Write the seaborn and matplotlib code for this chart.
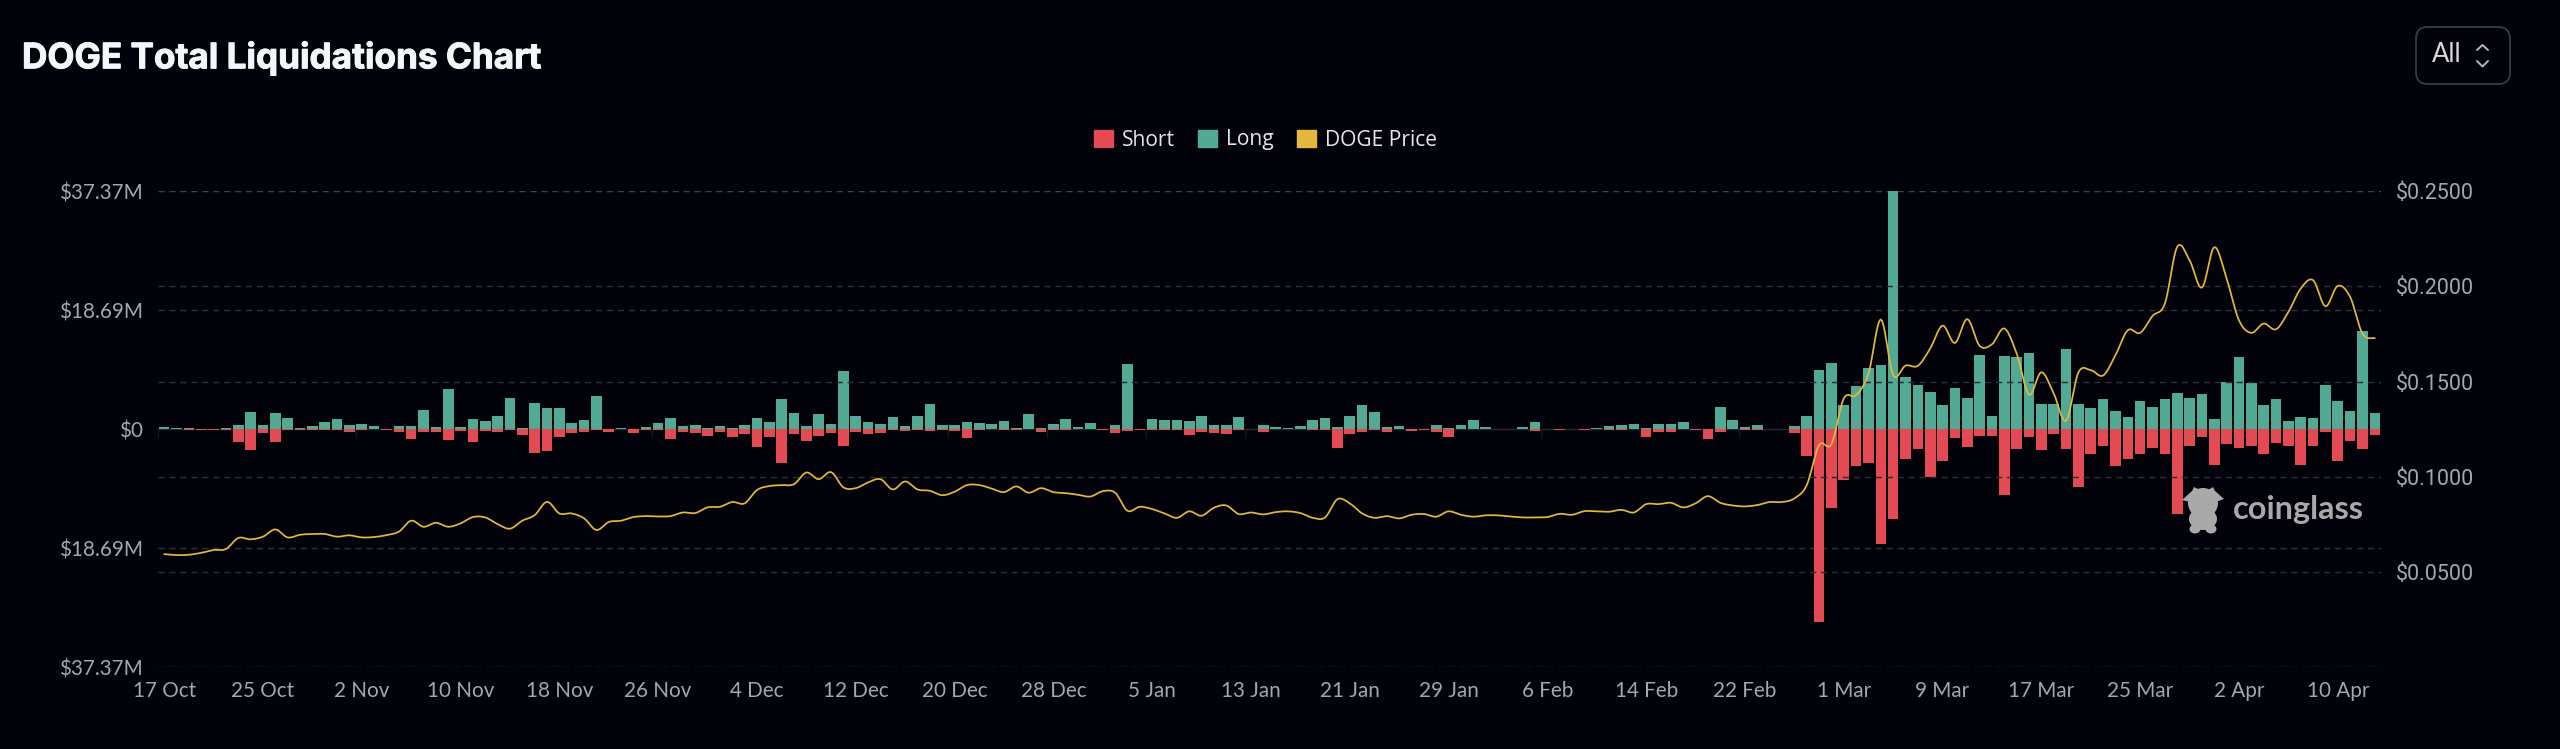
import numpy as np
import pandas as pd
import matplotlib
matplotlib.use("Agg")
import matplotlib.pyplot as plt
import matplotlib.patheffects as pe
import seaborn as sns
from matplotlib.patches import FancyBboxPatch, Patch, Polygon, Ellipse
from matplotlib.lines import Line2D

long_m = [
 .26,.21,.16,.05,.05,.21,.73,2.77,.68,2.57,
 1.78,.16,.47,1.05,1.52,.68,.84,.42,.05,.42,
 .52,2.98,.26,6.23,.26,1.57,1.26,2.04,4.97,.16,
 4.14,3.40,3.30,.99,1.47,5.13,.05,.16,.05,.37,
 .99,1.78,.47,.58,.16,.52,.16,.63,1.68,1.20,
 4.71,2.51,.47,2.36,.84,9.11,1.99,1.05,.84,1.94,
 .52,1.99,4.03,.68,.68,1.10,.99,.79,1.26,.21,
 2.36,.21,.79,1.52,.31,.94,.05,.63,10.16,.05,
 1.52,1.41,1.47,1.26,2.04,.63,.58,1.94,.03,.68,
 .26,.16,.42,1.41,1.83,.37,1.99,3.77,2.67,.31,
 .42,.03,.10,.58,.21,.68,1.36,.26,.10,.05,
 .26,1.10,.05,.03,.05,.05,.16,.47,.63,.79,
 .21,.79,.79,1.10,.10,.05,3.46,1.41,.31,.63,
 .05,.05,.52,1.99,9.32,10.37,3.82,6.75,9.58,10.05,
 37.37,8.17,6.86,5.81,3.72,6.44,4.87,11.68,1.99,11.47,
 11.26,11.94,3.93,3.98,12.67,3.93,3.25,4.66,2.83,1.88,
 4.35,3.51,4.66,5.65,4.97,5.45,1.62,7.33,11.26,7.23,
 3.72,4.66,1.26,1.88,1.78,6.91,4.35,2.93,15.45,2.57,
]
short_m = [
 .05,.05,.16,.21,.21,.10,1.99,3.30,.58,2.04,
 .16,.16,.10,.16,.21,.37,.10,.05,.10,.37,
 1.57,.42,.47,1.68,.31,1.99,.26,.42,.10,.89,
 3.72,3.46,1.31,.68,.47,.16,.47,.05,.58,.10,
 .16,1.47,.52,.68,1.05,.47,1.20,.79,2.88,1.26,
 5.34,.79,1.88,1.10,.68,2.57,.52,.84,.63,.10,
 .31,.16,.26,.10,.31,1.41,.16,.05,.16,.21,
 .05,.42,.10,.21,.05,.05,.16,.63,.31,.10,
 .16,.16,.10,.99,.42,.58,.84,.10,.03,.52,
 .05,.05,.05,.10,.16,3.04,.84,.37,.16,.42,
 .05,.31,.10,.42,1.26,.05,.05,.05,.05,.05,
 .05,.26,.05,.16,.05,.21,.05,.16,.16,.05,
 1.26,.52,.37,.05,.16,1.57,.37,.05,.10,.10,
 .05,.05,.58,4.24,30.37,12.46,8.06,5.76,5.34,18.01,
 14.08,4.71,3.14,7.59,5.03,1.41,2.88,1.05,1.15,10.42,
 3.14,1.26,3.25,.73,3.14,9.11,3.87,2.67,5.86,4.71,
 3.93,2.98,3.93,13.35,2.67,1.26,5.65,2.36,3.04,2.67,
 3.93,2.20,2.62,5.65,2.72,.52,4.97,1.83,3.09,.94,
]
price = [
 .0593,.0588,.0590,.0600,.0615,.0620,.0678,.0671,.0685,.0723,
 .0681,.0695,.0699,.0699,.0685,.0692,.0681,.0683,.0693,.0711,
 .0769,.0737,.0758,.0737,.0755,.0788,.0786,.0751,.0727,.0769,
 .0798,.0868,.0807,.0807,.0781,.0720,.0762,.0769,.0788,.0793,
 .0791,.0793,.0812,.0809,.0839,.0842,.0867,.0860,.0930,.0951,
 .0956,.0961,.1022,.0987,.1024,.0944,.0940,.0970,.0987,.0933,
 .0975,.0933,.0926,.0903,.0921,.0956,.0956,.0938,.0919,.0949,
 .0916,.0940,.0919,.0914,.0905,.0896,.0924,.0916,.0821,.0842,
 .0830,.0807,.0784,.0818,.0795,.0837,.0849,.0804,.0812,.0802,
 .0814,.0818,.0809,.0784,.0786,.0882,.0860,.0807,.0784,.0793,
 .0781,.0800,.0804,.0790,.0818,.0800,.0790,.0797,.0797,.0791,
 .0786,.0786,.0788,.0805,.0800,.0819,.0818,.0816,.0826,.0812,
 .0856,.0856,.0863,.0839,.0860,.0898,.0863,.0849,.0844,.0851,
 .0867,.0867,.0886,.0956,.1166,.1171,.1411,.1429,.1542,.1826,
 .1534,.1584,.1583,.1674,.1794,.1703,.1828,.1688,.1696,.1779,
 .1647,.1432,.1549,.1437,.1294,.1548,.1560,.1532,.1639,.1770,
 .1756,.1845,.1910,.2208,.2138,.1994,.2206,.2041,.1822,.1756,
 .1805,.1775,.1866,.1989,.2033,.1896,.2003,.1945,.1752,.1728,
]
dates = pd.date_range("2023-10-17", periods=len(price))
x_labels = ["17 Oct","25 Oct","2 Nov","10 Nov","18 Nov","26 Nov","4 Dec","12 Dec","20 Dec","28 Dec",
            "5 Jan","13 Jan","21 Jan","29 Jan","6 Feb","14 Feb","22 Feb","1 Mar","9 Mar","17 Mar",
            "25 Mar","2 Apr","10 Apr"]
left_ticks = [-37.37, -18.69, 0, 18.69, 37.37]
left_labels = ["$37.37M", "$18.69M", "$0", "$18.69M", "$37.37M"]
right_ticks = [0.05, 0.10, 0.15, 0.20, 0.25]

BG = "#02030A"; RED = "#E34A53"; GREEN = "#52AA95"; GOLD = "#E4B83E"; TXT = "#A6A7A9"
W, H = 2560, 749

sns.set_theme(style="dark", rc={"axes.facecolor": BG, "figure.facecolor": BG, "savefig.facecolor": BG})
df = pd.DataFrame({"date": dates.strftime("%Y-%m-%d"), "long": long_m, "short": np.negative(short_m), "price": price})

fig = plt.figure(figsize=(W/100, H/100), dpi=100)
def px(x, y):
    return (x / W, 1 - y / H)

ax = fig.add_axes([158/W, (H-667)/H, (2381-158)/W, (667-191.3)/H])
sns.barplot(data=df, x="date", y="long", color=GREEN, saturation=1, width=.86, linewidth=0, errorbar=None, ax=ax, zorder=3)
sns.barplot(data=df, x="date", y="short", color=RED, saturation=1, width=.86, linewidth=0, errorbar=None, ax=ax, zorder=3)
ax.set_xlim(-.5, len(price) - .5)
ax.set_ylim(-37.37, 37.37)
ax.set_xlabel(""); ax.set_ylabel("")
ax.set_xticks(range(0, len(price), 8))
ax.set_xticklabels(x_labels, family="Lato", fontsize=14.9, color=TXT)
ax.set_yticks(left_ticks)
ax.set_yticklabels(left_labels, family="Lato", fontsize=14.9, color=TXT)
ax.tick_params(axis="x", length=0, pad=10.2)
ax.tick_params(axis="y", length=0, pad=11)
ax.grid(False)
dash = (0, (4.3, 3.2))
for v, c in zip(left_ticks, ["#34363A", "#303135", "#26282C", "#303135", "#404246"]):
    ax.axhline(v, color=c, lw=1.05, ls=dash if v else "-", zorder=1)
# faint axis ticks hanging from the zero line, at the band edges of each labelled date
ax.vlines(np.arange(0, len(price), 8) - .5, -1.4, 0, color="#16181D", lw=1, zorder=1)
for s in ax.spines.values():
    s.set_visible(False)

ax2 = ax.twinx()
# smooth display of the daily prices (Catmull-Rom between the read points)
p = np.asarray(price)
ip = np.concatenate(([p[0]], p, [p[-1]]))
seg = np.linspace(0, 1, 12, endpoint=False)
xs, ys = [], []
for i in range(len(p) - 1):
    a, b, c, d = ip[i], ip[i+1], ip[i+2], ip[i+3]
    xs.append(i + seg)
    ys.append(.5 * (2*b + (c-a)*seg + (2*a-5*b+4*c-d)*seg**2 + (3*b-a-3*c+d)*seg**3))
xs = np.concatenate(xs + [[len(p) - 1]]); ys = np.concatenate(ys + [[p[-1]]])
sns.lineplot(x=xs, y=ys, color=GOLD, lw=1.25, ax=ax2, legend=False, estimator=None, sort=False, zorder=5)
ax2.set_ylim(0, 0.25)
ax2.set_yticks(right_ticks)
ax2.set_yticklabels([f"${v:.4f}" for v in right_ticks], family="Roboto", fontsize=15.5, color=TXT)
ax2.set_ylabel("")
ax2.tick_params(axis="y", length=0, pad=10.8)
ax2.grid(False)
ax2.patch.set_visible(False)
for s in ax2.spines.values():
    s.set_visible(False)
for v in right_ticks[:-1]:
    ax2.axhline(v, color="#2C2E32", lw=1.05, ls=dash, zorder=1)
ax.set_zorder(ax2.get_zorder() - 1)
ax.patch.set_visible(True)

t = fig.text(*px(22, 68.3), "DOGE Total Liquidations Chart", family="Inter", weight="bold", fontsize=25.3,
             color="#F5F6F8", va="baseline", ha="left")
t.set_path_effects([pe.withStroke(linewidth=.7, foreground="#F5F6F8")])

handles = [Patch(color=RED, label="Short"), Patch(color=GREEN, label="Long"), Patch(color=GOLD, label="DOGE Price")]
leg = fig.legend(handles=handles, loc="center", bbox_to_anchor=px(1265.5, 140), ncols=3, frameon=False,
                 handlelength=13.5/15.1, handleheight=13.5/15.1, handletextpad=.45,
                 columnspacing=1.1, labelcolor="#E6E6E6", prop={"family": "Open Sans", "size": 15.1})

# period selector
bx0, by1 = px(2416, 84); bx1, by0 = px(2510, 27)
fig.add_artist(FancyBboxPatch((bx0, by1), bx1-bx0, by0-by1, boxstyle="round,pad=0,rounding_size=0.0045",
               mutation_aspect=W/H, fc=BG, ec="#3A3C40", lw=1.3, transform=fig.transFigure))
fig.text(*px(2447, 55), "All", family="Lato", fontsize=18.5, color="#D8D8D8", ha="center", va="center")
for pts in ([(2477, 50), (2482.5, 45), (2488, 50)], [(2477, 61), (2482.5, 66.5), (2488, 61)]):
    xy = [px(*q) for q in pts]
    fig.add_artist(Line2D([q[0] for q in xy], [q[1] for q in xy], color="#B8B8B8", lw=1.4, transform=fig.transFigure))

# watermark
WM = "#A9A9AA"
fig.text(*px(2233, 510), "coinglass", family="Lato", weight="bold", fontsize=23.4, color=WM, ha="left", va="center")
for cx, cy, w, h in [(2203, 503, 30, 30), (2203, 519, 28, 22), (2195, 529, 11, 9), (2211, 529, 11, 9)]:
    c = px(cx, cy)
    fig.add_artist(Ellipse(c, w/W, h/H, fc=WM, ec="none", transform=fig.transFigure))
horns = [(2182, 500), (2192, 491), (2194, 487), (2200, 490), (2208, 490), (2213, 487), (2215, 491),
         (2224, 499), (2216, 502), (2190, 502)]
fig.add_artist(Polygon([px(*q) for q in horns], fc=WM, ec="none", transform=fig.transFigure))

fig.savefig("out.png", dpi=100, facecolor=BG)
